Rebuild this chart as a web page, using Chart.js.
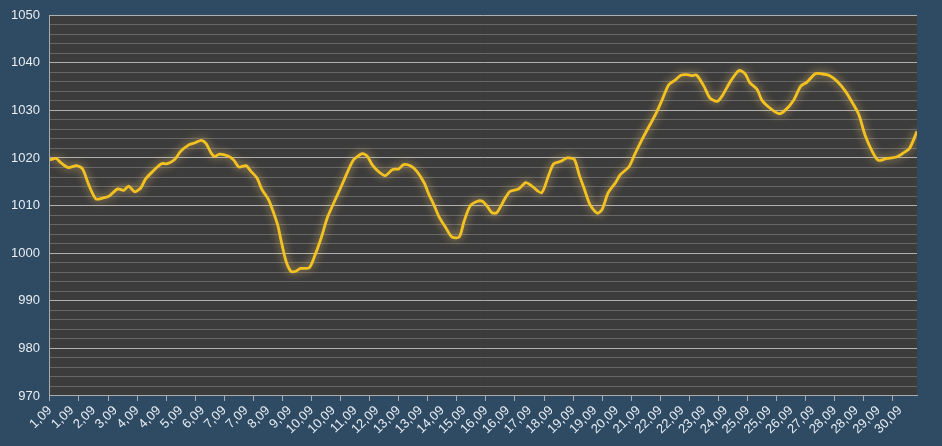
<!DOCTYPE html>
<html>
<head>
<meta charset="utf-8">
<script src="https://cdn.jsdelivr.net/npm/chart.js@4/dist/chart.umd.min.js"></script>
<style>
  html, body { margin: 0; padding: 0; background: #2f4a63; }
  #wrap { width: 942px; height: 446px; }
</style>
</head>
<body>
<div id="wrap"><canvas id="c" width="942" height="446"></canvas></div>
<script>
// Hours since 1.09 00:00
const hours = [0,5,9,15,22,27,32,38,44,49,56,61,65,70,75,79,85,92,97,103,108,115,120,125,129,133,136,140,147,152,156,162,166,171,175,180,182,188,191,195,199,203,207,214,218,224,229,235,240,246,251,258,262,266,272,277,283,288,292,298,303,309,313,317,321,327,332,338,342,347,353,357,361,365,369,376,380,387,393,398,406,412,416,422,427,433,437,441,446,452,456,461,467,471,478,483,489,494,500,505,511,516,521,526,530,534,540,545,551,555,562,569,574,578,584,588,595,602,607,614,620,625,632,637,644,650,657,662,668,673,679,684,691,699,705,710,716];
// Pressure, hPa
const pressure = [1019.6,1019.9,1019.0,1018.0,1018.4,1017.7,1014.4,1011.4,1011.6,1012.0,1013.5,1013.2,1014.1,1012.9,1013.7,1015.6,1017.2,1018.8,1018.8,1019.7,1021.4,1022.8,1023.2,1023.7,1023.0,1021.1,1020.3,1020.8,1020.4,1019.5,1018.1,1018.4,1017.2,1015.8,1013.4,1011.5,1010.4,1006.0,1002.5,998.3,996.2,996.2,996.8,996.9,999.0,1003.2,1007.4,1010.9,1013.7,1017.2,1019.7,1020.9,1020.4,1018.6,1017.0,1016.3,1017.6,1017.7,1018.6,1018.3,1017.2,1014.8,1012.3,1010.2,1007.8,1005.3,1003.4,1003.4,1006.7,1009.9,1010.9,1010.9,1009.9,1008.5,1008.5,1011.6,1013.0,1013.5,1014.8,1014.1,1012.7,1016.5,1018.8,1019.3,1020.0,1019.7,1016.5,1013.7,1010.2,1008.4,1009.2,1012.7,1014.8,1016.5,1018.1,1020.8,1023.9,1026.3,1029.1,1031.9,1035.4,1036.3,1037.4,1037.5,1037.3,1037.4,1035.1,1032.6,1031.9,1033.0,1036.1,1038.4,1037.7,1035.8,1034.4,1032.1,1030.4,1029.3,1030.0,1032.1,1035.1,1035.9,1037.7,1037.7,1037.3,1036.1,1034.0,1031.9,1029.1,1024.9,1021.4,1019.5,1019.9,1020.2,1021.1,1022.1,1025.6];
// X labels every 18 hours
const xLabels = ["1,09","1,09","2,09","3,09","4,09","4,09","5,09","6,09","7,09","7,09","8,09","9,09","10,09","10,09","11,09","12,09","13,09","13,09","14,09","15,09","16,09","16,09","17,09","18,09","19,09","19,09","20,09","21,09","22,09","22,09","23,09","24,09","25,09","25,09","26,09","27,09","28,09","28,09","29,09","30,09"];
const labelStep = 18;
const dayStep = 24;
const yMin = 970, yMax = 1050, yMajor = 10, yMinor = 2;
const xMax = 716;

const points = hours.map((h, i) => ({ x: h, y: pressure[i] }));

const bgPlugin = {
  id: 'bg',
  beforeDraw(chart) {
    const { ctx, chartArea: a } = chart;
    ctx.save();
    ctx.fillStyle = '#2f4a63';
    ctx.fillRect(0, 0, chart.width, chart.height);
    ctx.fillStyle = '#3c3c3c';
    ctx.fillRect(a.left, a.top, a.right - a.left, a.bottom - a.top);
    ctx.restore();
  }
};
const glowPlugin = {
  id: 'glow',
  beforeDatasetDraw(chart) {
    const ctx = chart.ctx;
    ctx.save();
    ctx.shadowColor = 'rgba(235, 195, 110, 0.85)';
    ctx.shadowBlur = 9;
  },
  afterDatasetDraw(chart) { chart.ctx.restore(); }
};

Chart.defaults.font.family = '"Liberation Sans", Arial, sans-serif';
Chart.defaults.font.size = 13;

new Chart(document.getElementById('c'), {
  type: 'line',
  data: {
    datasets: [{
      data: points,
      borderColor: '#f3c21f',
      borderWidth: 2.8,
      pointRadius: 0,
      tension: 0.25,
      fill: false
    }]
  },
  options: {
    responsive: false,
    animation: false,
    layout: { padding: { left: 1, right: 25, top: 1, bottom: 7 } },
    plugins: { legend: { display: false }, tooltip: { enabled: false } },
    scales: {
      x: {
        type: 'linear',
        min: 0,
        max: xMax,
        border: { color: '#aaaaaa', width: 1 },
        grid: {
          drawOnChartArea: false,
          drawTicks: true,
          tickLength: 5,
          tickColor: (c) => (c.tick && c.tick.value % dayStep === 0) ? '#aaaaaa' : 'rgba(0,0,0,0)'
        },
        ticks: {
          stepSize: 6,
          autoSkip: false,
          minRotation: 45,
          maxRotation: 45,
          color: '#e6edf3',
          padding: 2,
          callback: (v) => {
            if (v % labelStep === 0 && v / labelStep < xLabels.length) return xLabels[v / labelStep];
            return '';
          }
        }
      },
      y: {
        min: yMin,
        max: yMax,
        border: { color: '#aaaaaa', width: 1 },
        grid: {
          drawTicks: false,
          color: (c) => (c.tick && c.tick.value % yMajor === 0) ? '#b0b0b0' : '#676767',
          lineWidth: 1
        },
        ticks: {
          stepSize: yMinor,
          autoSkip: false,
          color: '#e6edf3',
          padding: 10,
          font: { size: 13, lineHeight: 0.8 },
          callback: (v) => (v % yMajor === 0) ? String(v) : ''
        }
      }
    }
  },
  plugins: [bgPlugin, glowPlugin]
});
</script>
</body>
</html>
